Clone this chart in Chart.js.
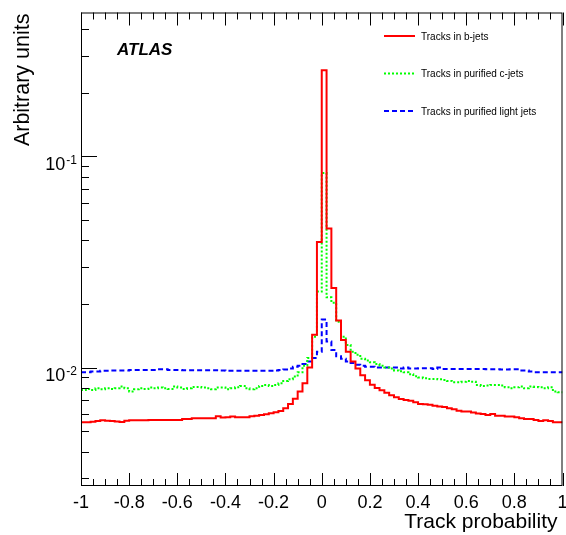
<!DOCTYPE html>
<html>
<head>
<meta charset="utf-8">
<script src="https://cdn.jsdelivr.net/npm/chart.js@4.4.1/dist/chart.umd.min.js"></script>
<style>
  html, body { margin: 0; padding: 0; background: #fff; }
  canvas { display: block; }
</style>
</head>
<body>
<canvas id="histo" width="566" height="535"></canvas>
<script>
// histogram range, 100 bins of 0.02
var xMin = -1, xMax = 1;

var bJets = [
  0.00551, 0.00551, 0.00554, 0.00558, 0.00563, 0.00560, 0.00558, 0.00556, 0.00553, 0.00560,
  0.00563, 0.00563, 0.00563, 0.00563, 0.00565, 0.00565, 0.00565, 0.00565, 0.00565, 0.00565,
  0.00565, 0.00571, 0.00571, 0.00575, 0.00575, 0.00575, 0.00575, 0.00575, 0.00588, 0.00580,
  0.00582, 0.00586, 0.00582, 0.00582, 0.00582, 0.00588, 0.00592, 0.00597, 0.00601, 0.00608,
  0.00615, 0.00623, 0.00642, 0.00673, 0.00711, 0.00770, 0.00843, 0.0100, 0.0143, 0.0393,
  0.256, 0.0455, 0.0238, 0.0167, 0.0135, 0.0119, 0.0107, 0.0099, 0.0092, 0.0087,
  0.0083, 0.0080, 0.0078, 0.0076, 0.0074, 0.00724, 0.0071, 0.00703, 0.00696, 0.00686,
  0.00673, 0.00671, 0.00666, 0.00659, 0.00655, 0.00650, 0.00642, 0.00635, 0.00625, 0.00619,
  0.00619, 0.00612, 0.00606, 0.00603, 0.00597, 0.00603, 0.00592, 0.00592, 0.00586, 0.00586,
  0.00582, 0.00575, 0.00571, 0.00571, 0.00565, 0.00558, 0.00563, 0.00558, 0.00551, 0.00551
];

var cJets = [
  0.00784, 0.00792, 0.00784, 0.00798, 0.00790, 0.00798, 0.00792, 0.00798, 0.00813, 0.00798,
  0.00770, 0.00790, 0.00798, 0.00792, 0.00804, 0.00798, 0.00804, 0.00798, 0.00792, 0.00813,
  0.00804, 0.00792, 0.00798, 0.00810, 0.00810, 0.00804, 0.00798, 0.00790, 0.00804, 0.00804,
  0.00790, 0.00798, 0.00806, 0.00819, 0.00798, 0.00790, 0.00798, 0.00819, 0.00828, 0.00819,
  0.00828, 0.00843, 0.00865, 0.00881, 0.00907, 0.0095, 0.0102, 0.0111, 0.0140, 0.0229,
  0.0834, 0.0215, 0.0203, 0.0165, 0.0140, 0.0128, 0.0119, 0.0115, 0.0110, 0.0108,
  0.0106, 0.0104, 0.0102, 0.0100, 0.0099, 0.0097, 0.0096, 0.0095, 0.0093, 0.0091,
  0.00897, 0.00890, 0.00884, 0.00884, 0.00880, 0.00874, 0.00865, 0.00853, 0.00853, 0.00858,
  0.00865, 0.00858, 0.00828, 0.00819, 0.00822, 0.00828, 0.00828, 0.00822, 0.00807, 0.00798,
  0.00807, 0.00813, 0.00798, 0.00813, 0.00810, 0.00807, 0.00798, 0.00807, 0.00770, 0.00764
];

var lightJets = [
  0.00951, 0.00951, 0.00957, 0.00957, 0.00965, 0.00965, 0.00968, 0.00968, 0.00968, 0.00968,
  0.00975, 0.00975, 0.00975, 0.00975, 0.00975, 0.00975, 0.00982, 0.00982, 0.00975, 0.00975,
  0.00975, 0.00972, 0.00972, 0.00972, 0.00972, 0.00972, 0.00972, 0.00972, 0.00972, 0.00968,
  0.00965, 0.00965, 0.00965, 0.00965, 0.00965, 0.00965, 0.00965, 0.00965, 0.00965, 0.00965,
  0.0097, 0.00975, 0.0098, 0.0099, 0.0101, 0.0102, 0.0104, 0.0107, 0.0111, 0.0119,
  0.0169, 0.0133, 0.0121, 0.0113, 0.0110, 0.0107, 0.0105, 0.0103, 0.0102, 0.0101,
  0.0101, 0.0100, 0.0100, 0.0100, 0.0100, 0.0100, 0.0099, 0.0100, 0.0099, 0.0099,
  0.00993, 0.00993, 0.00993, 0.00986, 0.0100, 0.00986, 0.00986, 0.00986, 0.00986, 0.00986,
  0.00986, 0.00986, 0.00986, 0.00986, 0.00982, 0.00982, 0.00982, 0.00979, 0.00979, 0.00982,
  0.00982, 0.00968, 0.00968, 0.00957, 0.00951, 0.00951, 0.00951, 0.00951, 0.00951, 0.00951
];

var seriesNames = ['Tracks in b-jets', 'Tracks in purified c-jets', 'Tracks in purified light jets'];
var xTickValues = [-1, -0.8, -0.6, -0.4, -0.2, 0, 0.2, 0.4, 0.6, 0.8, 1];
var xTickLabels = ['-1', '-0.8', '-0.6', '-0.4', '-0.2', '0', '0.2', '0.4', '0.6', '0.8', '1'];
var yTickValues = [0.01, 0.1];
var yTickLabels = [['10', '-2'], ['10', '-1']];

var FONT = '"Liberation Sans", Arial, Helvetica, sans-serif';

// bin contents -> points at the lower bin edges, plus the closing edge
function toSteps(values) {
  var w = (xMax - xMin) / values.length;
  var pts = values.map(function (v, i) { return { x: xMin + i * w, y: v }; });
  pts.push({ x: xMax, y: values[values.length - 1] });
  return pts;
}

var rootFrame = {
  id: 'rootFrame',
  afterDraw: function (chart) {
    var ctx = chart.ctx, a = chart.chartArea;
    var xs = chart.scales.x, ys = chart.scales.y;
    ctx.save();
    ctx.strokeStyle = '#000';
    ctx.lineWidth = 1;
    ctx.strokeRect(a.left + 0.5, a.top + 0.5, a.right - a.left - 1, a.bottom - a.top - 1);

    // inward ticks: bottom + top for x, left only for y
    ctx.beginPath();
    for (var t = 0; t <= 40; t++) {
      var px = Math.round(xs.getPixelForValue(xMin + t * 0.05)) + 0.5;
      var len = (t % 4 === 0) ? 13 : 7;
      ctx.moveTo(px, a.bottom); ctx.lineTo(px, a.bottom - len);
      ctx.moveTo(px, a.top); ctx.lineTo(px, a.top + len);
    }
    for (var d = -3; d <= -1; d++) {
      for (var k = 1; k <= 9; k++) {
        var val = k * Math.pow(10, d);
        if (val < ys.min || val > ys.max) continue;
        var py = Math.round(ys.getPixelForValue(val)) + 0.5;
        var l = (k === 1) ? 16 : 8;
        ctx.moveTo(a.left, py); ctx.lineTo(a.left + l, py);
      }
    }
    ctx.stroke();

    // tick labels
    ctx.fillStyle = '#000';
    ctx.font = '18px ' + FONT;
    ctx.textAlign = 'center';
    ctx.textBaseline = 'alphabetic';
    xTickValues.forEach(function (v, i) {
      ctx.fillText(xTickLabels[i], xs.getPixelForValue(v), a.bottom + 22);
    });
    yTickValues.forEach(function (v, i) {
      var py = ys.getPixelForValue(v);
      ctx.textAlign = 'right';
      ctx.font = '12px ' + FONT;
      ctx.fillText(yTickLabels[i][1], a.left - 4, py + 7.5);
      var supW = ctx.measureText(yTickLabels[i][1]).width;
      ctx.font = '18px ' + FONT;
      ctx.fillText(yTickLabels[i][0], a.left - 5 - supW, py + 13.5);
    });

    // axis titles
    ctx.font = '21px ' + FONT;
    ctx.textAlign = 'right';
    ctx.fillText('Track probability', a.right - 5, 528);
    ctx.save();
    ctx.translate(29, a.top + 1);
    ctx.rotate(-Math.PI / 2);
    ctx.font = '21.5px ' + FONT;
    ctx.textAlign = 'right';
    ctx.fillText('Arbitrary units', 0, 0);
    ctx.restore();

    // ATLAS label
    ctx.font = 'italic bold 17px ' + FONT;
    ctx.textAlign = 'left';
    ctx.fillText('ATLAS', 117, 55);

    // legend
    var rowsY = [36, 73.5, 111];
    ctx.font = '10px ' + FONT;
    chart.data.datasets.forEach(function (ds, i) {
      ctx.save();
      ctx.strokeStyle = ds.borderColor;
      ctx.lineWidth = 2;
      ctx.setLineDash(ds.borderDash || []);
      ctx.beginPath();
      ctx.moveTo(384, rowsY[i]);
      ctx.lineTo(415, rowsY[i]);
      ctx.stroke();
      ctx.restore();
      ctx.fillStyle = '#000';
      ctx.fillText(ds.label, 421, rowsY[i] + 3.5);
    });
    ctx.restore();
  }
};

new Chart(document.getElementById('histo'), {
  type: 'line',
  data: {
    datasets: [
      { label: seriesNames[0], data: toSteps(bJets), borderColor: '#ff0000', borderWidth: 2 },
      { label: seriesNames[1], data: toSteps(cJets), borderColor: '#00ff00', borderWidth: 2, borderDash: [2, 2] },
      { label: seriesNames[2], data: toSteps(lightJets), borderColor: '#0000ff', borderWidth: 2, borderDash: [5, 3] }
    ]
  },
  options: {
    responsive: false,
    animation: false,
    devicePixelRatio: 1,
    layout: { padding: { left: 81, right: 3.5, top: 12.5, bottom: 49 } },
    elements: {
      point: { radius: 0, hoverRadius: 0 },
      line: { stepped: 'before', fill: false, borderJoinStyle: 'miter' }
    },
    scales: {
      x: { type: 'linear', min: xMin, max: xMax, display: false },
      y: { type: 'logarithmic', min: 0.00275, max: 0.48, display: false }
    },
    plugins: {
      legend: { display: false },
      tooltip: { enabled: false }
    }
  },
  plugins: [rootFrame]
});
</script>
</body>
</html>
